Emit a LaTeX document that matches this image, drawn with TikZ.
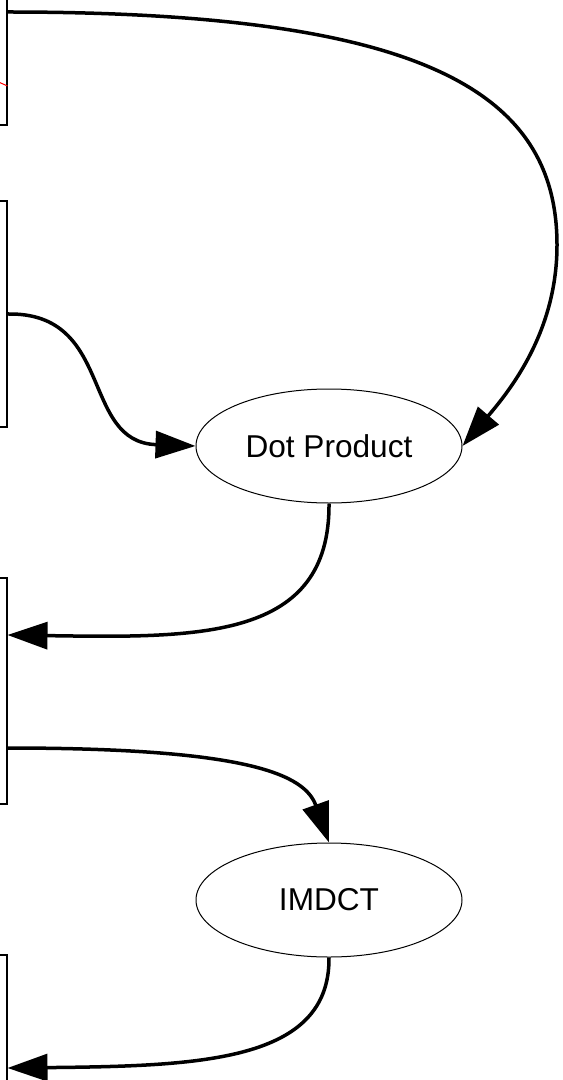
\documentclass[tikz,border=0pt]{standalone}
\usepackage{fontspec}
\setmainfont{Liberation Sans}
\usetikzlibrary{shapes,arrows.meta,calc}

\begin{document}
\begin{tikzpicture}[x=0.5pt,y=-0.5pt,
  block/.style={draw, line width=0.75pt, minimum width=60pt, minimum height=113pt, anchor=east},
  stage/.style={draw, ellipse, line width=0.5pt, minimum width=133pt, minimum height=57pt,
    font=\fontsize{15.8}{18}\selectfont},
  flow/.style={line width=1.75pt, -{Triangle[length=20pt,width=13.5pt]}}]
\useasboundingbox (0,0) rectangle (562,1080);
\clip (0,0) rectangle (562,1080);

% buffers along the left edge
\node[block] (buf1) at (7.5,12) {};
\node[block] (buf2) at (7.5,314) {};
\node[block] (buf3) at (7.5,691) {};
\node[block] (buf4) at (7.5,1068) {};
\draw[red, line width=0.5pt] (-6,80) -- (7.5,86);

% processing stages
\node[stage] (dot) at (329,446) {Dot Product};
\node[stage] (imdct) at (329,900) {IMDCT};

\coordinate (buf3in) at ($(buf3.east)+(0,-56)$);
\coordinate (buf3out) at ($(buf3.east)+(0,57)$);

\draw[flow] (buf1.east) .. controls (420,12) and (557,90) .. (557,245)
  .. controls (557,330) and (512,388) .. (dot.east);
\draw[flow] (buf2.east) .. controls (115,312) and (80,442) .. (dot.west);
\draw[flow] (dot.south) .. controls (330,640) and (200,638) .. (buf3in);
\draw[flow] (buf3out) .. controls (250,748) and (305,775) .. (imdct.north);
\draw[flow] (imdct.south) .. controls (330,1062) and (200,1066) .. (buf4.east);
\end{tikzpicture}
\end{document}
